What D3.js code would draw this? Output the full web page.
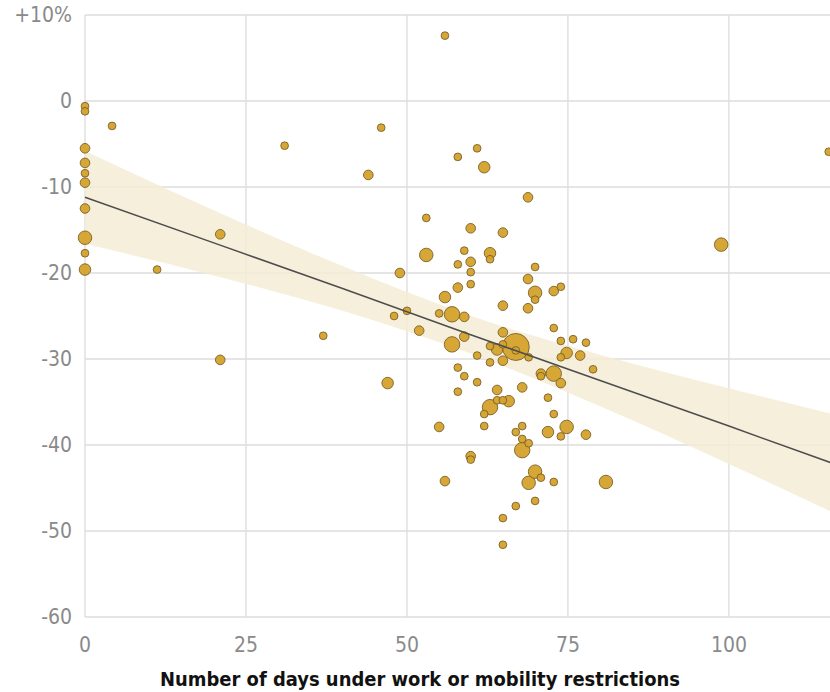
<!DOCTYPE html>
<html>
<head>
<meta charset="utf-8">
<script src="https://cdn.jsdelivr.net/npm/d3@7"></script>
<style>
  body { margin: 0; background: #fff; }
  .tick-label { font-family: "Liberation Sans Narrow", "DejaVu Sans Condensed", "Roboto", sans-serif; fill: #8a8a8a; }
  .axis-title { font-family: "Liberation Sans Narrow", "DejaVu Sans Condensed", "Roboto", sans-serif; font-weight: bold; fill: #111; }
</style>
</head>
<body>
<div id="chart"></div>
<script>
// days under restrictions, % change, population (bubble size)
const days = [0, 0, 0, 0, 0, 0, 0, 0, 0, 0,
  4.2, 11.2, 21, 21, 31, 37, 44, 46, 47, 48, 48.9, 50, 51.9, 53, 53,
  55, 55, 55.9, 55.9, 55.9, 57, 57, 57.9, 57.9, 57.9, 57.9, 57.9,
  58.9, 58.9, 58.9, 58.9, 59.9, 59.9, 59.9, 59.9, 59.9, 59.9,
  60.9, 60.9, 60.9, 62, 62, 62, 62.9, 62.9, 62.9, 62.9, 62.9,
  64, 64, 64, 64.9, 64.9, 64.9, 64.9, 64.9, 64.9, 64.9, 64.9, 65.8,
  66.9, 66.9, 66.9, 66.9, 67.9, 67.9, 67.9, 67.9,
  68.8, 68.8, 68.8, 68.9, 68.9, 68.9, 69.9, 69.9, 69.9, 69.9, 69.9,
  70.8, 70.8, 70.8, 71.9, 71.9, 72.8, 72.8, 72.8, 72.8, 72.8,
  73.9, 73.9, 73.9, 73.9, 73.9, 74.8, 74.8, 75.8, 76.9, 77.8, 77.8, 78.9,
  80.9, 98.8, 115.5];
const change = [-0.6, -1.2, -5.5, -7.2, -8.4, -9.5, -12.5, -15.9, -17.7, -19.6,
  -2.9, -19.6, -15.5, -30.1, -5.2, -27.3, -8.6, -3.1, -32.8, -25, -20, -24.4, -26.7, -13.6, -17.9,
  -24.7, -37.9, 7.6, -22.8, -44.2, -24.8, -28.3, -6.5, -19, -21.7, -31, -33.8,
  -17.4, -25.1, -27.4, -32, -14.8, -18.7, -19.9, -21.3, -41.3, -41.7,
  -5.5, -29.6, -32.7, -7.7, -36.4, -37.8, -17.7, -18.4, -28.5, -30.4, -35.6,
  -28.9, -33.6, -34.8, -15.3, -23.8, -26.9, -28.3, -30.2, -34.8, -48.5, -51.6, -34.9,
  -28.6, -29.0, -38.5, -47.1, -33.3, -37.8, -39.3, -40.6,
  -11.2, -20.7, -24.1, -29.8, -39.8, -44.4, -19.3, -22.3, -23.1, -43.1, -46.5,
  -31.7, -32.0, -43.8, -34.5, -38.5, -22.1, -26.4, -31.7, -36.4, -44.3,
  -21.6, -27.9, -29.8, -32.8, -39, -29.3, -37.9, -27.7, -29.6, -28.1, -38.8, -31.2,
  -44.3, -16.7, -5.9];
const population = [18, 18, 28, 28, 18, 28, 28, 55, 18, 40,
  18, 18, 28, 28, 18, 18, 28, 18, 40, 18, 28, 18, 28, 18, 55,
  18, 28, 18, 40, 28, 72, 72, 18, 18, 28, 18, 18,
  18, 28, 28, 18, 28, 28, 18, 18, 28, 18,
  18, 18, 18, 40, 18, 18, 40, 18, 18, 18, 72,
  40, 28, 18, 28, 28, 28, 18, 28, 18, 18, 18, 40,
  220, 18, 18, 18, 28, 18, 18, 72,
  28, 28, 28, 18, 18, 55, 18, 55, 18, 55, 18,
  28, 18, 18, 18, 40, 28, 18, 72, 18, 18,
  18, 18, 18, 28, 18, 40, 55, 18, 28, 18, 28, 18,
  55, 55, 18];

// fitted trend and its confidence band
const fitDays = [0, 20, 40, 60, 80, 100, 116];
const fitLine = [-11.2, -16.5, -21.8, -27.2, -32.5, -37.8, -42.1];
const bandUpper = [-5.8, -12.7, -19.2, -25.0, -29.5, -33.4, -36.4];
const bandLower = [-16.6, -20.3, -24.4, -29.4, -35.5, -42.2, -47.8];

const xTicks = [0, 25, 50, 75, 100];
const yTicks = [10, 0, -10, -20, -30, -40, -50, -60];

const width = 830, height = 692;
const plotLeft = 85, plotRight = 830, plotTop = 15, plotBottom = 617;

const svg = d3.select("#chart").append("svg")
  .attr("width", width)
  .attr("height", height)
  .attr("viewBox", `0 0 ${width} ${height}`);

const x = d3.scaleLinear().domain([0, 115.7]).range([plotLeft, plotRight]);
const y = d3.scaleLinear().domain([-60, 10]).range([plotBottom, plotTop]);
const r = d3.scaleSqrt().domain([0, 220]).range([0, 13.5]);

// grid
const grid = svg.append("g");
grid.selectAll(".hgrid")
  .data(yTicks)
  .join("line")
  .attr("x1", plotLeft).attr("x2", plotRight)
  .attr("y1", d => y(d)).attr("y2", d => y(d))
  .attr("stroke", "#dcdcdc")
  .attr("stroke-width", 1.3);
grid.selectAll(".vgrid")
  .data(xTicks)
  .join("line")
  .attr("x1", d => x(d)).attr("x2", d => x(d))
  .attr("y1", plotTop).attr("y2", plotBottom)
  .attr("stroke", "#dcdcdc")
  .attr("stroke-width", 1.3);

// band + trend line
const fit = fitDays.map((d, i) => ({ d, line: fitLine[i], hi: bandUpper[i], lo: bandLower[i] }));
svg.append("path")
  .datum(fit)
  .attr("d", d3.area()
    .x(p => x(p.d))
    .y0(p => y(p.lo))
    .y1(p => y(p.hi))
    .curve(d3.curveMonotoneX))
  .attr("fill", "#f5ecd6")
  .attr("fill-opacity", 0.85);

// bubbles
const points = days.map((d, i) => ({ d, c: change[i], p: population[i] }))
  .sort((a, b) => b.p - a.p);
svg.append("g").selectAll("circle")
  .data(points)
  .join("circle")
  .attr("cx", p => x(p.d))
  .attr("cy", p => y(p.c))
  .attr("r", p => r(p.p))
  .attr("fill", "#d4a22b")
  .attr("fill-opacity", 0.95)
  .attr("stroke", "#7a6128")
  .attr("stroke-width", 0.9);

svg.append("path")
  .datum(fit)
  .attr("d", d3.line().x(p => x(p.d)).y(p => y(p.line)))
  .attr("fill", "none")
  .attr("stroke", "#4d4d4d")
  .attr("stroke-width", 1.5);

// tick labels
svg.selectAll(".ylab")
  .data(yTicks)
  .join("text")
  .attr("class", "tick-label")
  .attr("x", 72)
  .attr("y", d => y(d))
  .attr("dy", "0.35em")
  .attr("text-anchor", "end")
  .attr("font-size", "21px")
  .text(d => d === 10 ? "+10%" : d);

svg.selectAll(".xlab")
  .data(xTicks)
  .join("text")
  .attr("class", "tick-label")
  .attr("x", d => x(d))
  .attr("y", 645)
  .attr("dy", "0.35em")
  .attr("text-anchor", "middle")
  .attr("font-size", "21px")
  .text(d => d);

svg.append("text")
  .attr("class", "axis-title")
  .attr("x", 420)
  .attr("y", 679)
  .attr("dy", "0.35em")
  .attr("text-anchor", "middle")
  .attr("font-size", "20px")
  .attr("textLength", 520)
  .attr("lengthAdjust", "spacingAndGlyphs")
  .text("Number of days under work or mobility restrictions");
</script>
</body>
</html>
